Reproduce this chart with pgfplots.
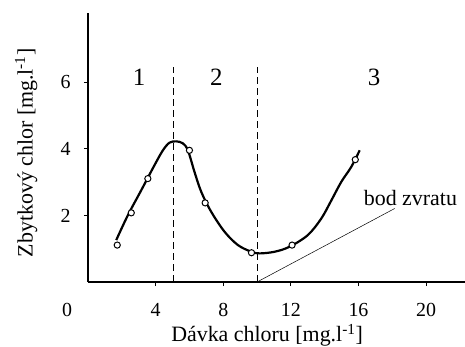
\documentclass[border=0pt]{standalone}
\usepackage{pgfplots}
\pgfplotsset{compat=1.18}
\usepackage{fontspec}
\setmainfont{Liberation Serif}
\begin{document}
\begin{tikzpicture}
\useasboundingbox (0,0) rectangle (465bp,347bp);
\begin{axis}[
  at={(88bp,65bp)}, anchor=south west,
  scale only axis, width=377bp, height=269bp,
  xmin=0, xmax=22.3, ymin=0, ymax=8.09,
  axis x line=bottom, axis y line=left,
  axis line style={-, line width=1.1pt},
  xtick={4,8,12,16,20}, ytick={2,4,6},
  extra x ticks={0}, extra x tick style={major tick length=0pt, xticklabel style={xshift=-21bp, yshift=-4bp}},
  tick align=outside, major tick length=4bp,
  tick style={line width=1pt, black},
  /pgf/number format/assume math mode=true,
  ticklabel style={font=\fontsize{20}{23}\selectfont},
  xticklabel style={yshift=-14bp},
  yticklabel style={xshift=-10bp},
  xlabel={Dávka chloru [mg.l\textsuperscript{-1}]},
  ylabel={Zbytkový chlor [mg.l\textsuperscript{-1}]},
  label style={font=\fontsize{22}{25}\selectfont},
  xlabel style={at={(axis description cs:0.475,-0.222)}, anchor=base},
  ylabel style={at={(axis description cs:-0.164,0.48)}, anchor=center},
  clip=false,
]
\addplot[black, line width=1.1pt, dash pattern=on 7bp off 4bp] coordinates {(5.05,0) (5.05,6.48)};
\addplot[black, line width=1.1pt, dash pattern=on 7bp off 4bp] coordinates {(10.0,0) (10.0,6.48)};
\addplot[black, line width=0.5pt] coordinates {(10.0,0) (18.14,2.21)};
\addplot[black, line width=2.2pt, smooth, tension=0.55] coordinates {
(1.67,1.26) (2.36,2.01) (3.15,2.76) (3.93,3.51) (4.43,3.96) (4.82,4.19) (5.22,4.23) (5.61,4.17) (5.91,3.96) (6.3,3.31) (6.7,2.71) (7.29,2.11) (8.08,1.51) (8.87,1.11) (9.66,0.91) (10.15,0.86) (11.04,0.91) (11.92,1.06) (13.0,1.41) (13.8,1.91) (14.39,2.45) (14.98,3.01) (15.57,3.46) (16.07,3.96)
};
\addplot[only marks, mark=*, mark size=3.1bp, mark options={fill=white, draw=black, line width=1pt}] coordinates {
(1.73,1.11) (2.56,2.08) (3.54,3.11) (6.0,3.96) (6.93,2.38) (9.67,0.88) (12.07,1.11) (15.81,3.68)
};
\node[font=\fontsize{25}{28}\selectfont] at (axis cs:3.03,6.15) {1};
\node[font=\fontsize{25}{28}\selectfont] at (axis cs:7.59,6.15) {2};
\node[font=\fontsize{25}{28}\selectfont] at (axis cs:16.93,6.15) {3};
\node[font=\fontsize{22}{25}\selectfont, anchor=base] at (axis cs:19.07,2.30) {bod zvratu};
\end{axis}
\end{tikzpicture}
\end{document}
